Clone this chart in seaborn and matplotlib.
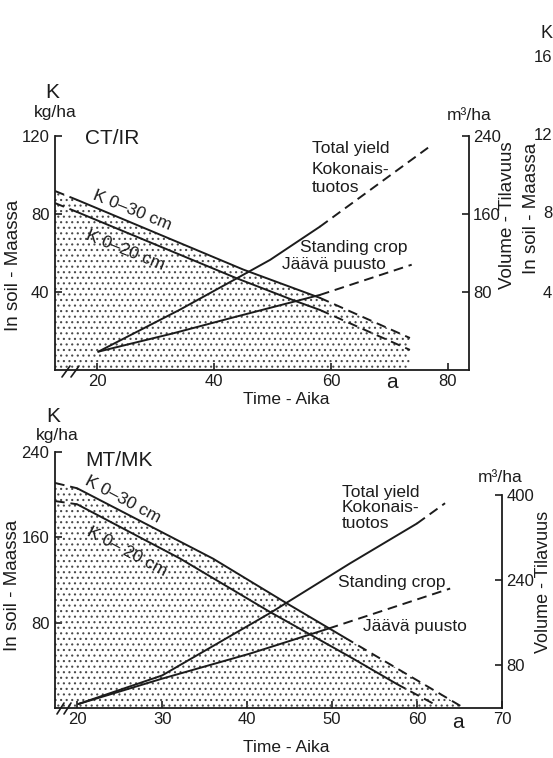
import matplotlib
matplotlib.use("Agg")
import matplotlib.pyplot as plt
from matplotlib.lines import Line2D
import seaborn as sns

# ---------------- data ----------------
# Upper panel  CT/IR   (age a, K kg/ha, volume m3/ha)
ct_k30_age = [12.8, 16.6, 45.0, 58.1, 73.5]
ct_k30_val = [91.8, 87.2, 51.5, 37.0, 16.4]
ct_k20_age = [12.8, 16.6, 43.9, 53.8, 58.1, 73.5]
ct_k20_val = [85.6, 81.0, 47.0, 35.5, 30.8, 10.3]
ct_total_age = [20.2, 34.2, 44.4, 49.6, 58.1, 76.6]
ct_total_vol = [18.8, 62.0, 95.7, 113.0, 147.0, 228.0]
ct_stand_age = [20.2, 33.0, 42.7, 53.6, 58.1, 73.8]
ct_stand_vol = [18.8, 37.6, 53.0, 70.0, 77.0, 108.0]

# Lower panel  MT/MK
mt_k30_age = [17.4, 20.0, 36.0, 44.7, 51.5, 65.4]
mt_k30_val = [211.0, 206.0, 140.0, 98.0, 66.0, 0.6]
mt_k20_age = [17.4, 20.0, 32.1, 42.7, 52.1, 57.6, 62.4]
mt_k20_val = [194.0, 191.0, 140.2, 90.0, 48.0, 22.6, 2.0]
mt_total_age = [20.15, 30.0, 42.7, 52.1, 60.0, 63.3]
mt_total_vol = [7.5, 61.0, 178.0, 271.0, 346.0, 384.0]
mt_stand_age = [20.15, 30.0, 40.35, 49.6, 63.9]
mt_stand_vol = [7.5, 55.0, 102.0, 149.0, 224.0]

ct_xticks = [20, 40, 60, 80]
ct_kticks = [40, 80, 120]
ct_vticks = [80, 160, 240]
mt_xticks = [20, 30, 40, 50, 60, 70]
mt_kticks = [80, 160, 240]
mt_vticks = [80, 240, 400]

# ---------------- style ----------------
sns.set_theme(style="white")
plt.rcParams["font.family"] = ["Liberation Sans", "DejaVu Sans"]
plt.rcParams["hatch.linewidth"] = 0.8
INK = "#1c1c1c"
W, H = 553, 758
LW = 1.4
DASH = (0, (5, 3))

fig = plt.figure(figsize=(W / 100, H / 100), dpi=100)


def fx(x):
    return x / W


def fy(y):
    return 1 - y / H


def T(x, y, s, size=12.5, ha="left", va="center", rot=0):
    fig.text(fx(x), fy(y), s, fontsize=size, ha=ha, va=va, rotation=rot,
             color=INK, rotation_mode="anchor" if rot not in (0, 90) else "default")


def seg(ax, xs, ys, dashed=False):
    kw = dict(linestyle=DASH) if dashed else {}
    sns.lineplot(x=xs, y=ys, ax=ax, color=INK, linewidth=LW, sort=False,
                 estimator=None, legend=False, **kw)


def slash(x0, y0, x1, y1):
    fig.add_artist(Line2D([fx(x0), fx(x1)], [fy(y0), fy(y1)], color=INK, lw=1.2))


def setup(ax, ax2, xlim, klim, vlim, xt, kt, vt, vbound):
    ax.set_xlim(*xlim)
    ax.set_ylim(*klim)
    ax2.set_ylim(*vlim)
    for s in ["top", "right"]:
        ax.spines[s].set_visible(False)
    for s in ["top", "left", "bottom"]:
        ax2.spines[s].set_visible(False)
    for a in (ax, ax2):
        for s in a.spines.values():
            s.set_color(INK)
            s.set_linewidth(1.3)
    ax2.spines["right"].set_bounds(0, vbound)
    ax.set_xticks(xt)
    ax.set_yticks(kt)
    ax2.set_yticks(vt)
    ax.tick_params(axis="x", direction="in", length=5, width=1.2, pad=3,
                   labelsize=12, colors=INK, bottom=True)
    ax.tick_params(axis="y", direction="in", length=5, width=1.2, pad=4,
                   labelsize=12, colors=INK, left=True)
    ax2.tick_params(axis="y", direction="in", length=5, width=1.2, pad=3,
                    labelsize=12, colors=INK, right=True)
    ax.set_xlabel("")
    ax.set_ylabel("")
    ax2.set_ylabel("")
    ax.grid(False)
    ax2.grid(False)
    ax.patch.set_alpha(0)


# ================= upper panel =================
ax1 = fig.add_axes([fx(55), fy(370), fx(469 - 55), (370 - 136) / H])
ax1v = ax1.twinx()
setup(ax1, ax1v, (12.8, 83.6), (0, 120), (0, 240), ct_xticks, ct_kticks,
      ct_vticks, 240)

ax1.fill_between(ct_k30_age, 0, ct_k30_val, facecolor="none",
                 edgecolor="#4a4a4a", hatch="...", linewidth=0, zorder=1)
seg(ax1, ct_k30_age[0:2], ct_k30_val[0:2], dashed=True)
seg(ax1, ct_k30_age[1:4], ct_k30_val[1:4])
seg(ax1, ct_k30_age[3:5], ct_k30_val[3:5], dashed=True)
seg(ax1, ct_k20_age[0:2], ct_k20_val[0:2], dashed=True)
seg(ax1, ct_k20_age[1:5], ct_k20_val[1:5])
seg(ax1, ct_k20_age[4:6], ct_k20_val[4:6], dashed=True)
seg(ax1v, ct_total_age[0:5], ct_total_vol[0:5])
seg(ax1v, ct_total_age[4:6], ct_total_vol[4:6], dashed=True)
seg(ax1v, ct_stand_age[0:5], ct_stand_vol[0:5])
seg(ax1v, ct_stand_age[4:6], ct_stand_vol[4:6], dashed=True)
ax1v.set_ylabel("")

T(52, 92, "K", size=15, ha="center")
T(55, 112, "kg/ha", ha="center")
T(85, 139, "CT/IR", size=15)
T(469, 116, "m³/ha", ha="center")
T(312, 149, "Total yield")
T(312, 170, "Kokonais-")
T(312, 188, "tuotos")
T(300, 248, "Standing crop")
T(282, 264, "Jäävä puusto")
T(286, 399, "Time - Aika", size=12.5, ha="center")
T(392, 382, "a", size=15, ha="center")
T(94, 195, "K 0–30 cm", rot=-22, va="center")
T(87, 235, "K 0–20 cm", rot=-22, va="center")
T(14, 265, "In soil - Maassa", size=13.5, ha="center", rot=90)
T(507, 215, "Volume - Tilavuus", size=13.5, ha="center", rot=90)
slash(62, 377, 70, 366)
slash(71, 377, 79, 366)

# ================= lower panel =================
ax2 = fig.add_axes([fx(55), fy(708), fx(502 - 55), (708 - 452) / H])
ax2v = ax2.twinx()
setup(ax2, ax2v, (17.4, 70.0), (0, 240), (0, 480), mt_xticks, mt_kticks,
      mt_vticks, 400)

ax2.fill_between(mt_k30_age, 0, mt_k30_val, facecolor="none",
                 edgecolor="#4a4a4a", hatch="...", linewidth=0, zorder=1)
seg(ax2, mt_k30_age[0:2], mt_k30_val[0:2], dashed=True)
seg(ax2, mt_k30_age[1:5], mt_k30_val[1:5])
seg(ax2, mt_k30_age[4:6], mt_k30_val[4:6], dashed=True)
seg(ax2, mt_k20_age[0:2], mt_k20_val[0:2], dashed=True)
seg(ax2, mt_k20_age[1:6], mt_k20_val[1:6])
seg(ax2, mt_k20_age[5:7], mt_k20_val[5:7], dashed=True)
seg(ax2v, mt_total_age[0:5], mt_total_vol[0:5])
seg(ax2v, mt_total_age[4:6], mt_total_vol[4:6], dashed=True)
seg(ax2v, mt_stand_age[0:4], mt_stand_vol[0:4])
seg(ax2v, mt_stand_age[3:5], mt_stand_vol[3:5], dashed=True)
ax2v.set_ylabel("")

T(53, 416, "K", size=15, ha="center")
T(57, 435, "kg/ha", ha="center")
T(85, 461, "MT/MK", size=15)
T(500, 478, "m³/ha", ha="center")
T(342, 492, "Total yield")
T(342, 508, "Kokonais-")
T(342, 524, "tuotos")
T(338, 582, "Standing crop")
T(363, 627, "Jäävä puusto")
T(286, 748, "Time - Aika", size=12.5, ha="center")
T(458, 722, "a", size=15, ha="center")
T(86, 480, "K 0–30 cm", rot=-28, va="center")
T(88, 531, "K 0– 20 cm", rot=-28, va="center")
T(13, 585, "In soil - Maassa", size=13.5, ha="center", rot=90)
T(543, 582, "Volume - Tilavuus", size=13, ha="center", rot=90)
slash(57, 714, 64, 703)
slash(64, 714, 71, 703)

# visible fragments of the neighbouring page at the right edge
T(552, 33, "K", size=13, ha="right")
T(552, 57, "16", size=12, ha="right")
T(552, 135, "12", size=12, ha="right")
T(552, 213, "8", size=12, ha="right")
T(552, 293, "4", size=12, ha="right")
T(532, 208, "In soil - Maassa", size=13.5, ha="center", rot=90)

fig.savefig("out.png", dpi=100, facecolor="white")
